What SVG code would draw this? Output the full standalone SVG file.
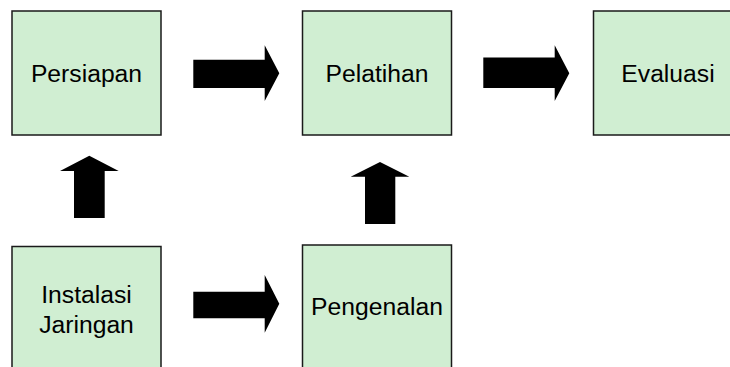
<svg xmlns="http://www.w3.org/2000/svg" width="730" height="367" viewBox="0 0 730 367">
<style>
.box{fill:#d0eed2;stroke:#1a1a1a;stroke-width:1.5}
.lbl{font-family:"Liberation Sans",Arial,sans-serif;font-size:24.7px;fill:#000;text-anchor:middle}
.arr{fill:#000}
</style>
<rect width="730" height="367" fill="#fff"/>
<g id="persiapan"><rect class="box" x="12" y="11" width="149" height="124"/><text class="lbl" x="86.5" y="81.8">Persiapan</text></g>
<g id="pelatihan"><rect class="box" x="302.5" y="11" width="149" height="124"/><text class="lbl" x="377" y="81.8">Pelatihan</text></g>
<g id="evaluasi"><rect class="box" x="593.5" y="11" width="149" height="124"/><text class="lbl" x="668" y="81.8">Evaluasi</text></g>
<g id="instalasi"><rect class="box" x="12" y="246.5" width="149" height="124"/><text class="lbl" x="86.5" y="303.3">Instalasi</text><text class="lbl" x="86.5" y="332.8">Jaringan</text></g>
<g id="pengenalan"><rect class="box" x="302.5" y="245" width="149" height="124"/><text class="lbl" x="377" y="314.5">Pengenalan</text></g>
<g id="connectors">
<polygon class="arr" points="193.3,59.7 264.7,59.7 264.7,45.3 279.3,73.2 264.7,101 264.7,88 193.3,88"/>
<polygon class="arr" points="483.3,57.5 554.7,57.5 554.7,45.3 569.3,73.2 554.7,101 554.7,88 483.3,88"/>
<polygon class="arr" points="193.3,291.7 264.7,291.7 264.7,275 279.3,303.8 264.7,332.7 264.7,318.3 193.3,318.3"/>
<polygon class="arr" points="74,218 74,171 60,171 89.3,155.7 118.7,171 104.7,171 104.7,218"/>
<polygon class="arr" points="365,224 365,176.7 350.7,176.7 380,162 409.3,176.7 395.3,176.7 395.3,224"/>
</g>
</svg>
